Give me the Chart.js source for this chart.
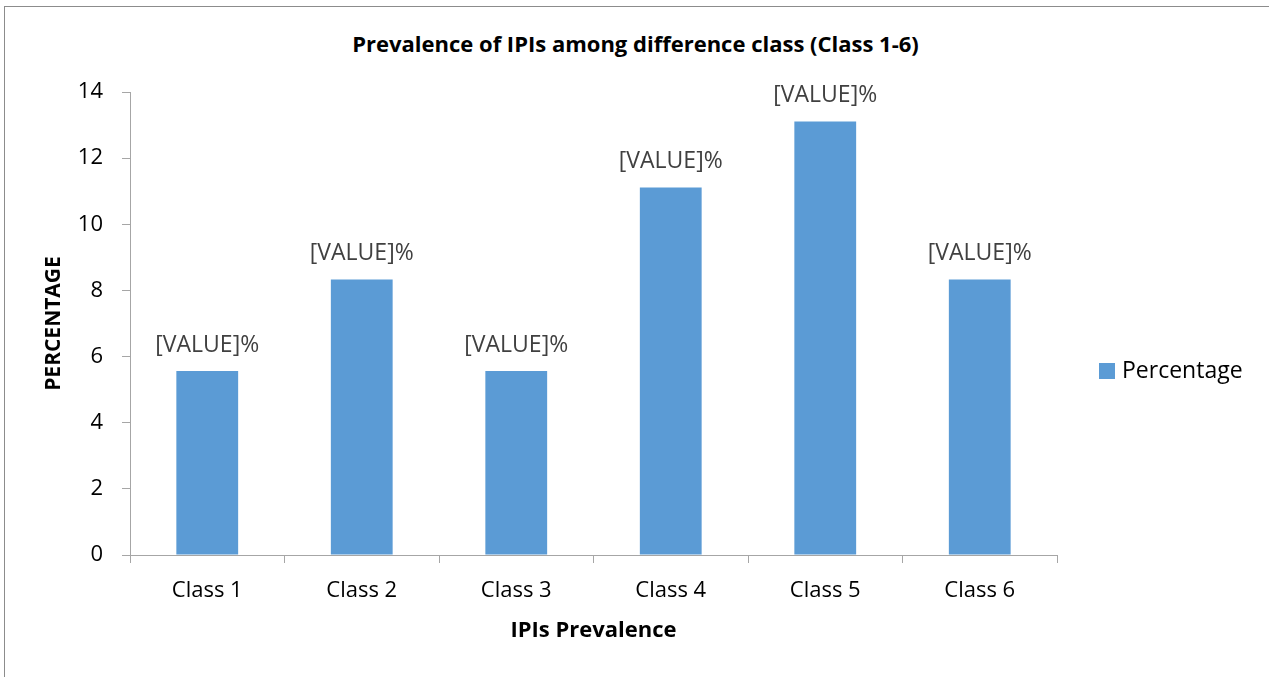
<!DOCTYPE html>
<html lang="en">
<head>
    <meta charset="UTF-8">
    <title>Prevalence of IPIs among difference class</title>
    <style>
        body {
            margin: 0;
            padding: 0;
            background-color: #fff;
            overflow: hidden;
            font-family: "Open Sans", "Noto Sans", sans-serif;
        }
        .frame {
            position: absolute;
            left: 4px;
            top: 6px;
            width: 1400px;
            height: 800px;
            border-top: 1px solid #8c8c8c;
            border-left: 1px solid #8c8c8c;
        }
        .chart-title {
            position: absolute;
            left: 0;
            top: 30px;
            width: 1271px;
            text-align: center;
            font-size: 22px;
            line-height: 26px;
            font-weight: bold;
            color: #000;
        }
        #prevalenceChart {
            position: absolute;
            left: 0;
            top: 0;
        }
    </style>
    <script src="https://cdn.jsdelivr.net/npm/chart.js"></script>
</head>
<body>
    <div class="frame"></div>
    <div class="chart-title">Prevalence of IPIs among difference class (Class 1-6)</div>
    <canvas id="prevalenceChart" width="1269" height="677"></canvas>

    <script>
        const classes = ['Class 1', 'Class 2', 'Class 3', 'Class 4', 'Class 5', 'Class 6'];
        const percentages = [5.56, 8.33, 5.56, 11.11, 13.11, 8.33];
        const yTicks = [0, 2, 4, 6, 8, 10, 12, 14];

        const barColor = '#5B9BD5';
        const axisColor = '#a6a6a6';
        const fontFamily = '"Open Sans", "Noto Sans", sans-serif';

        // "[VALUE]%" labels over each bar
        const valueLabels = {
            id: 'valueLabels',
            afterDatasetsDraw(chart) {
                const ctx = chart.ctx;
                ctx.save();
                ctx.font = '23px ' + fontFamily;
                ctx.fillStyle = '#404040';
                ctx.textAlign = 'center';
                ctx.textBaseline = 'middle';
                chart.getDatasetMeta(0).data.forEach(bar => {
                    ctx.fillText('[VALUE]%', bar.x, bar.y - 26);
                });
                ctx.restore();
            }
        };

        // legend on the right, drawn beside the plot
        const sideLegend = {
            id: 'sideLegend',
            afterDraw(chart) {
                const ctx = chart.ctx;
                const ds = chart.data.datasets[0];
                const x = chart.chartArea.right + 42;
                const y = 371;
                ctx.save();
                ctx.fillStyle = ds.backgroundColor;
                ctx.fillRect(x, y - 8, 16, 16);
                ctx.font = '23px ' + fontFamily;
                ctx.fillStyle = '#000';
                ctx.textAlign = 'left';
                ctx.textBaseline = 'middle';
                ctx.fillText(ds.label, x + 23, y);
                ctx.restore();
            }
        };

        new Chart(document.getElementById('prevalenceChart'), {
            type: 'bar',
            data: {
                labels: classes,
                datasets: [{
                    label: 'Percentage',
                    data: percentages,
                    backgroundColor: barColor,
                    barPercentage: 0.4,
                    categoryPercentage: 1.0
                }]
            },
            options: {
                responsive: false,
                animation: false,
                devicePixelRatio: 1,
                layout: {
                    padding: { left: 0, right: 212, top: 92, bottom: 0 }
                },
                plugins: {
                    legend: { display: false },
                    tooltip: { enabled: false },
                    title: { display: false }
                },
                scales: {
                    x: {
                        grid: {
                            drawOnChartArea: false,
                            drawTicks: true,
                            tickLength: 8,
                            color: axisColor
                        },
                        border: { color: axisColor },
                        ticks: {
                            color: '#000',
                            font: { family: fontFamily, size: 22 },
                            padding: 15
                        },
                        title: {
                            display: true,
                            text: 'IPIs Prevalence',
                            color: '#000',
                            font: { family: fontFamily, size: 22, weight: 'bold' },
                            padding: { top: 4, bottom: 33 }
                        },
                        afterFit(scale) { scale.height = 122; }
                    },
                    y: {
                        min: 0,
                        max: 14,
                        afterBuildTicks(scale) {
                            scale.ticks = yTicks.map(v => ({ value: v }));
                        },
                        grid: {
                            drawOnChartArea: false,
                            drawTicks: true,
                            tickLength: 8,
                            color: axisColor
                        },
                        border: { color: axisColor },
                        ticks: {
                            color: '#000',
                            font: { family: fontFamily, size: 22 },
                            padding: 19
                        },
                        title: {
                            display: true,
                            text: 'PERCENTAGE',
                            color: '#000',
                            font: { family: fontFamily, size: 21, weight: 'bold' },
                            padding: { top: 41, bottom: 0 }
                        },
                        afterFit(scale) { scale.width = 130; }
                    }
                }
            },
            plugins: [valueLabels, sideLegend]
        });
    </script>
</body>
</html>
